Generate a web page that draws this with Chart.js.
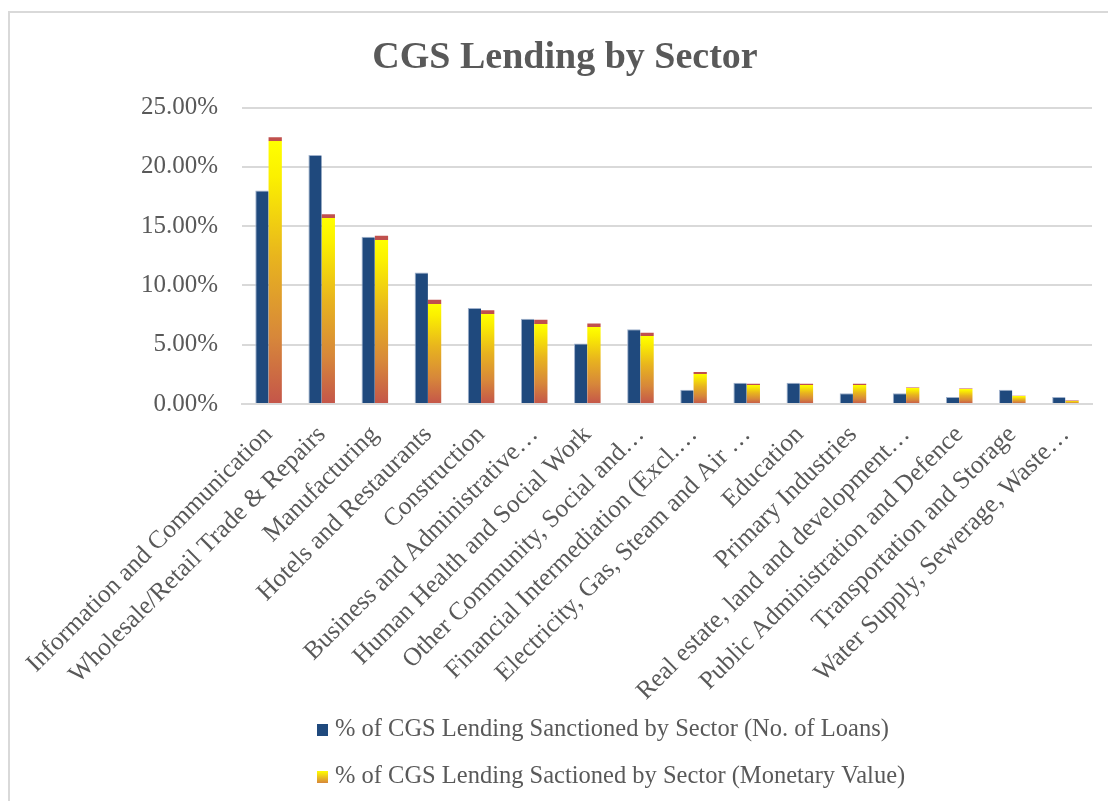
<!DOCTYPE html>
<html>
<head>
<meta charset="utf-8">
<title>CGS Lending by Sector</title>
<script src="https://cdn.jsdelivr.net/npm/chart.js@4.4.1/dist/chart.umd.min.js"></script>
<style>
  html, body { margin: 0; padding: 0; background: #fff; overflow: hidden; }
  #frame {
    position: absolute; left: 8px; top: 11px;
    width: 1200px; height: 900px;
    border: 2px solid #d9d9d9;
  }
  #wrap { position: absolute; left: 0; top: 0; width: 1108px; height: 801px; }
</style>
</head>
<body>
<div id="frame"></div>
<div id="wrap"><canvas id="grafico"></canvas></div>
<script>
// sectors, in the order they appear on the axis
const sectores = [
  "Information and Communication",
  "Wholesale/Retail Trade & Repairs",
  "Manufacturing",
  "Hotels and Restaurants",
  "Construction",
  "Business and Administrative\u2026",
  "Human Health and Social Work",
  "Other Community, Social and\u2026",
  "Financial Intermediation (Excl.\u2026",
  "Electricity, Gas, Steam and Air \u2026",
  "Education",
  "Primary Industries",
  "Real estate, land and development\u2026",
  "Public Administration and Defence",
  "Transportation and Storage",
  "Water Supply, Sewerage, Waste\u2026"
];

// % share by number of loans
const pctPrestamos = [18.0, 21.0, 14.1, 11.1, 8.1, 7.2, 5.1, 6.3, 1.2, 1.8, 1.8, 0.9, 0.9, 0.6, 1.2, 0.6];
// % share by monetary value
const pctValor = [22.5, 16.0, 14.2, 8.8, 7.9, 7.1, 6.8, 6.0, 2.7, 1.7, 1.7, 1.7, 1.4, 1.3, 0.7, 0.3];

const serie1 = "% of CGS Lending Sanctioned by Sector (No. of Loans)";
const serie2 = "% of CGS Lending Sactioned by Sector (Monetary Value)";
const ticksY = [0, 5, 10, 15, 20, 25];

const gris = "#595959";
const fuente = "'Liberation Serif', 'Times New Roman', serif";
const margenIzq = 38;

// red -> orange -> yellow fill per bar, with a thin red cap on top
function rellenoValor(ctx) {
  const chart = ctx.chart;
  if (ctx.type !== 'data' || !chart.chartArea || !chart.scales.y) return '#e6b820';
  const y = chart.scales.y;
  const base = y.getPixelForValue(0);
  const top = y.getPixelForValue(ctx.raw);
  const h = base - top;
  if (!(h > 0)) return '#e6b820';
  const cap = Math.min(4, h * 0.05) / h;
  const g = chart.ctx.createLinearGradient(0, base, 0, top);
  g.addColorStop(0, '#c4554a');
  g.addColorStop(0.25, '#d7873a');
  g.addColorStop(0.55, '#e8b41e');
  g.addColorStop(0.85, '#fbf000');
  g.addColorStop(Math.max(0.86, 1 - cap - 0.001), '#ffff00');
  g.addColorStop(Math.max(0.87, 1 - cap), '#c0504d');
  g.addColorStop(1, '#c0504d');
  return g;
}

// legend: two rows, left aligned, drawn under the axis labels
const leyenda = {
  id: 'leyenda',
  afterDraw(chart) {
    const c = chart.ctx;
    const x = 317;
    const filas = [
      { y: 730, texto: serie1, tipo: 0 },
      { y: 777, texto: serie2, tipo: 1 }
    ];
    c.save();
    filas.forEach(f => {
      if (f.tipo === 0) {
        c.fillStyle = '#1f497d';
      } else {
        const g = c.createLinearGradient(0, f.y - 6, 0, f.y + 6);
        g.addColorStop(0, '#ffff00');
        g.addColorStop(1, '#d7873a');
        c.fillStyle = g;
      }
      c.fillRect(x, f.y - 6, 11, 12);
      c.fillStyle = gris;
      c.font = "24.5px " + fuente;
      c.textBaseline = 'middle';
      c.textAlign = 'left';
      c.fillText(f.texto, x + 18, f.y);
    });
    c.restore();
  }
};

const graph = document.getElementById('grafico');
const myChart = new Chart(graph, {
  type: 'bar',
  data: {
    labels: sectores,
    datasets: [{
      label: serie1,
      data: pctPrestamos,
      backgroundColor: '#1f497d',
      borderColor: '#9fb1cc',
      borderWidth: { top: 1, left: 1, right: 0, bottom: 0 },
      borderSkipped: 'start'
    }, {
      label: serie2,
      data: pctValor,
      backgroundColor: rellenoValor,
      borderWidth: 0
    }]
  },
  options: {
    responsive: true,
    maintainAspectRatio: false,
    animation: false,
    datasets: { bar: { categoryPercentage: 0.5, barPercentage: 1.0 } },
    layout: { padding: { left: margenIzq, right: 16, top: 0, bottom: 0 } },
    plugins: {
      legend: { display: false },
      tooltip: { enabled: false },
      title: {
        display: true,
        text: 'CGS Lending by Sector',
        color: gris,
        font: { family: fuente, size: 38, weight: 'bold', lineHeight: 1.2 },
        padding: { top: 35, bottom: 27 }
      }
    },
    scales: {
      x: {
        grid: { display: false, drawTicks: false },
        border: { display: true, color: '#d9d9d9', width: 2 },
        ticks: {
          color: gris,
          font: { family: fuente, size: 25.5 },
          minRotation: 45,
          maxRotation: 45,
          autoSkip: false,
          padding: 16
        },
        afterFit(scale) { scale.height = 397; }
      },
      y: {
        min: 0,
        max: 25,
        afterBuildTicks(scale) { scale.ticks = ticksY.map(v => ({ value: v })); },
        grid: { color: '#d9d9d9', lineWidth: 2, drawTicks: false },
        border: { display: false },
        ticks: {
          color: gris,
          font: { family: fuente, size: 25 },
          padding: 24,
          callback: v => v.toFixed(2) + '%'
        },
        afterFit(scale) { scale.width = 242 - margenIzq; }
      }
    }
  },
  plugins: [leyenda]
});
</script>
</body>
</html>
